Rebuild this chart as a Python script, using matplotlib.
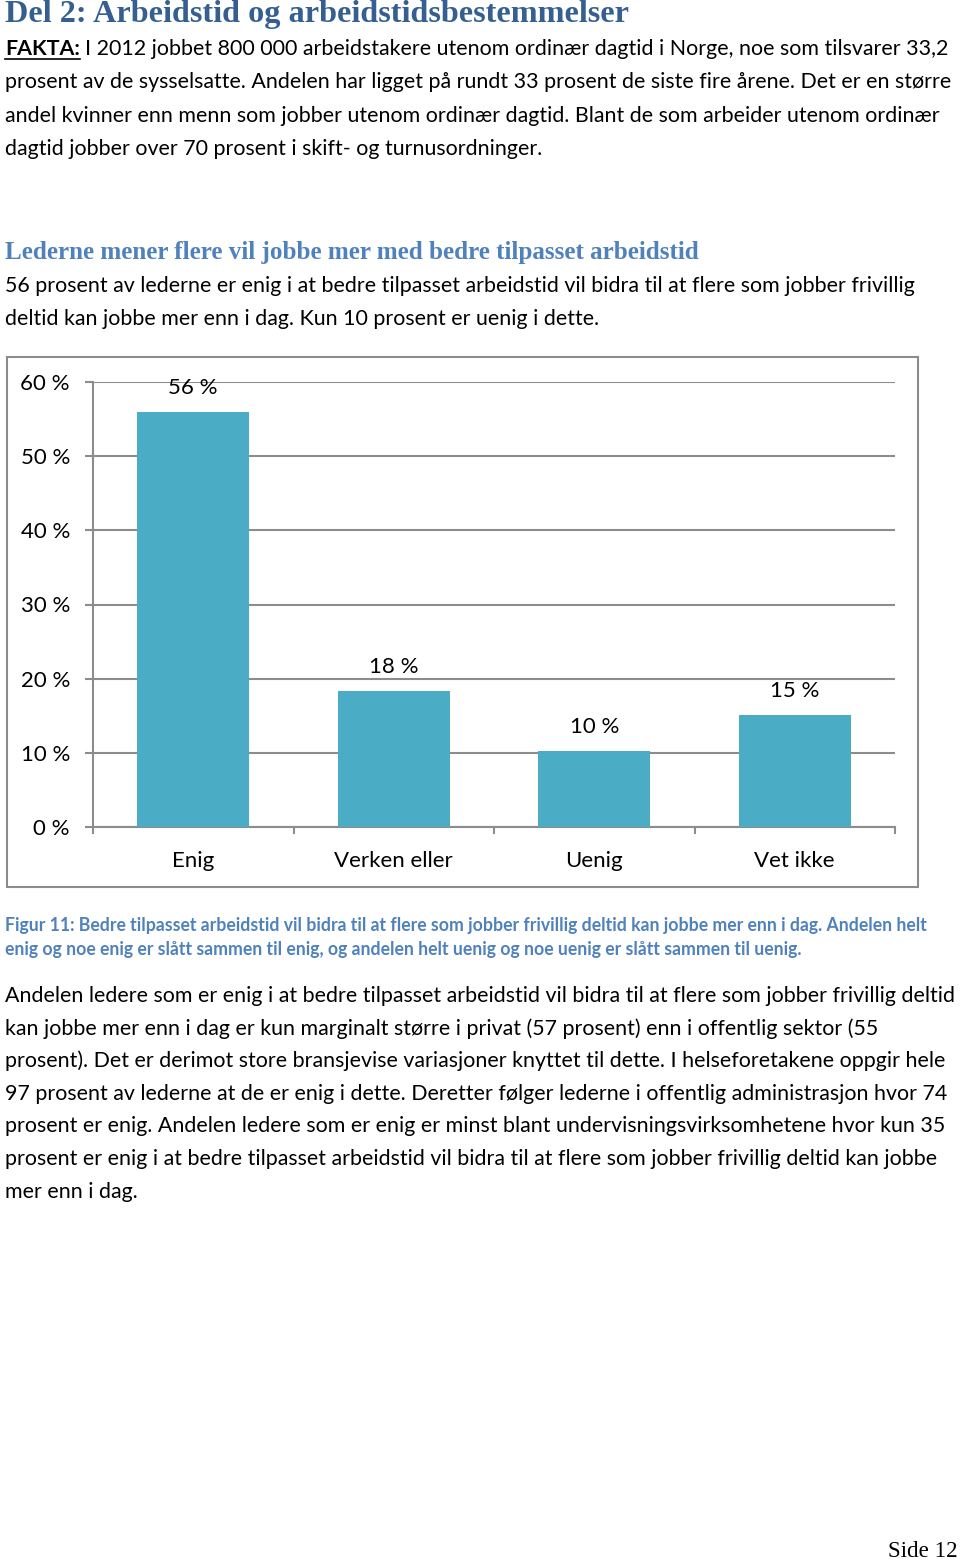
import matplotlib
matplotlib.use("Agg")
import matplotlib.pyplot as plt
from matplotlib.patches import Rectangle
from matplotlib.lines import Line2D

W, H = 960, 1559

categories = ["Enig", "Verken eller", "Uenig", "Vet ikke"]
values = [55.9, 18.4, 10.3, 15.1]
yticks = [0, 10, 20, 30, 40, 50, 60]
ytick_labels = ["0 %", "10 %", "20 %", "30 %", "40 %", "50 %", "60 %"]

heading = "Del 2: Arbeidstid og arbeidstidsbestemmelser"
fakta_lines = [
    "I 2012 jobbet 800 000 arbeidstakere utenom ordinær dagtid i Norge, noe som tilsvarer 33,2",
    "prosent av de sysselsatte. Andelen har ligget på rundt 33 prosent de siste fire årene. Det er en større",
    "andel kvinner enn menn som jobber utenom ordinær dagtid. Blant de som arbeider utenom ordinær",
    "dagtid jobber over 70 prosent i skift- og turnusordninger.",
]
subheading = "Lederne mener flere vil jobbe mer med bedre tilpasset arbeidstid"
intro_lines = [
    "56 prosent av lederne er enig i at bedre tilpasset arbeidstid vil bidra til at flere som jobber frivillig",
    "deltid kan jobbe mer enn i dag. Kun 10 prosent er uenig i dette.",
]
caption_lines = [
    "Figur 11: Bedre tilpasset arbeidstid vil bidra til at flere som jobber frivillig deltid kan jobbe mer enn i dag. Andelen helt",
    "enig og noe enig er slått sammen til enig, og andelen helt uenig og noe uenig er slått sammen til uenig.",
]
body_lines = [
    "Andelen ledere som er enig i at bedre tilpasset arbeidstid vil bidra til at flere som jobber frivillig deltid",
    "kan jobbe mer enn i dag er kun marginalt større i privat (57 prosent) enn i offentlig sektor (55",
    "prosent). Det er derimot store bransjevise variasjoner knyttet til dette. I helseforetakene oppgir hele",
    "97 prosent av lederne at de er enig i dette. Deretter følger lederne i offentlig administrasjon hvor 74",
    "prosent er enig. Andelen ledere som er enig er minst blant undervisningsvirksomhetene hvor kun 35",
    "prosent er enig i at bedre tilpasset arbeidstid vil bidra til at flere som jobber frivillig deltid kan jobbe",
    "mer enn i dag.",
]

BODY_FONT = "Lato"
BODY_SIZE = 15.4
CHART_SIZE = 16
SERIF = "Liberation Serif"
BAR_COLOR = "#4BACC6"
GRID = "#8c8c8c"


def fx(px):
    return px / W


def fy(px):
    return 1 - px / H


fig = plt.figure(figsize=(W / 100, H / 100), dpi=100)
renderer = fig.canvas.get_renderer()

fig.text(fx(5), fy(22), heading, family=SERIF, weight="bold", fontsize=23.2,
         color="#365F91", va="baseline")

# FAKTA paragraph
t = fig.text(fx(5), fy(55), "FAKTA:", family=BODY_FONT, weight="bold", fontsize=BODY_SIZE,
             va="baseline")
ext = t.get_window_extent(renderer)
fig.add_artist(Line2D([ext.x0 / W, ext.x1 / W], [fy(59), fy(59)], color="black", lw=1.2))
fig.text(ext.x1 / W + fx(5), fy(55), fakta_lines[0], family=BODY_FONT, fontsize=BODY_SIZE,
         va="baseline")
for i, line in enumerate(fakta_lines[1:]):
    fig.text(fx(5), fy(55 + 33.3 * (i + 1)), line, family=BODY_FONT, fontsize=BODY_SIZE,
             va="baseline")

fig.text(fx(5), fy(259), subheading, family=SERIF, weight="bold", fontsize=18.1,
         color="#4F81BD", va="baseline")
for i, line in enumerate(intro_lines):
    fig.text(fx(5), fy(292 + 33 * i), line, family=BODY_FONT, fontsize=BODY_SIZE, va="baseline")

# chart frame
fig.add_artist(Rectangle((fx(7), fy(887)), fx(918) - fx(7), fy(357) - fy(887),
                         transform=fig.transFigure, fill=False, edgecolor=GRID, lw=1.5))

ax = fig.add_axes([fx(93), fy(827), fx(895) - fx(93), fy(382) - fy(827)])
x = list(range(len(categories)))
bars = ax.bar(x, values, width=0.56, color=BAR_COLOR, zorder=3)
ax.set_xlim(-0.5, len(categories) - 0.5)
ax.set_ylim(0, 60)
ax.set_yticks(yticks)
ax.set_yticklabels(ytick_labels, fontsize=CHART_SIZE, family=BODY_FONT)
ax.yaxis.grid(True, color=GRID, lw=1.5, zorder=0)
ax.set_axisbelow(True)
ax.tick_params(axis="y", length=5.8, width=1.5, color=GRID, pad=10.8)
ax.set_xticks([i - 0.5 for i in range(len(categories) + 1)])
ax.set_xticklabels([])
ax.set_xticks(x, minor=True)
ax.set_xticklabels(categories, minor=True, fontsize=CHART_SIZE, family=BODY_FONT)
ax.tick_params(axis="x", which="major", length=5, width=1.5, color=GRID)
ax.tick_params(axis="x", which="minor", length=0, pad=17)
for side in ["top", "right"]:
    ax.spines[side].set_visible(False)
for side in ["left", "bottom"]:
    ax.spines[side].set_color(GRID)
    ax.spines[side].set_linewidth(1.5)
for xi, v in zip(x, values):
    ax.annotate(f"{round(v)} %", (xi, v), xytext=(0, 24), textcoords="offset pixels",
                ha="center", va="center", fontsize=CHART_SIZE, family=BODY_FONT)

for i, line in enumerate(caption_lines):
    fig.text(fx(5), fy(931 + 23.5 * i), line, family=BODY_FONT, weight="bold", fontsize=12.7,
             color="#4F81BD", va="baseline")

for i, line in enumerate(body_lines):
    fig.text(fx(5), fy(1002 + 32.6 * i), line, family=BODY_FONT, fontsize=BODY_SIZE, va="baseline")

fig.text(fx(958), fy(1557), "Side 12", family=SERIF, fontsize=16.6, ha="right", va="baseline")

fig.savefig("out.png", dpi=100)
